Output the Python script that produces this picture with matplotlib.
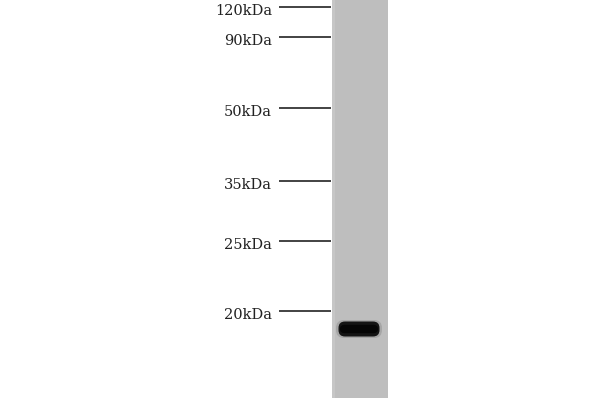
import matplotlib
matplotlib.use("Agg")
import matplotlib.pyplot as plt
from matplotlib.patches import Rectangle, FancyBboxPatch

# marker ladder (label, migration position in px from top of blot)
marker_labels = ["120kDa", "90kDa", "50kDa", "35kDa", "25kDa", "20kDa"]
marker_pos = [7, 37, 108, 181, 241, 311]

# detected band in the single lane
band_pos = [329]
band_intensity = [1.0]

lane_left, lane_right = 332, 388
lane_bottom = 398

fig = plt.figure(figsize=(6, 4), dpi=100)
ax = fig.add_axes([0, 0, 1, 1])
ax.set_xlim(0, 600)
ax.set_ylim(400, 0)
ax.axis("off")

# lane background
ax.add_patch(Rectangle((lane_left, 0), lane_right - lane_left, lane_bottom,
                       facecolor="#bebebe", edgecolor="none"))
ax.add_patch(Rectangle((lane_left, 0), 3, lane_bottom,
                       facecolor="#c6c6c6", edgecolor="none"))

# marker lines and labels
for lab, y in zip(marker_labels, marker_pos):
    ax.plot([279, lane_left - 1], [y, y], color="#222222", lw=1.2,
            solid_capstyle="butt")
    ax.text(272, y + 4, lab, ha="right", va="center", fontsize=10.5,
            family="DejaVu Serif", color="#222222")

# band: soft halo + dark core
for y, inten in zip(band_pos, band_intensity):
    halo = FancyBboxPatch((339, y - 6), 40, 12,
                          boxstyle="round,pad=3,rounding_size=8",
                          facecolor="#8a8a8a", edgecolor="none",
                          alpha=0.45 * inten)
    ax.add_patch(halo)
    core = FancyBboxPatch((341, y - 5), 36, 10,
                          boxstyle="round,pad=2.5,rounding_size=6.5",
                          facecolor="#141414", edgecolor="none", alpha=inten)
    ax.add_patch(core)
    ax.plot([344, 374], [y, y], color="#050505", lw=6, alpha=inten,
            solid_capstyle="round")

fig.savefig("out.png", dpi=100, facecolor="white")
